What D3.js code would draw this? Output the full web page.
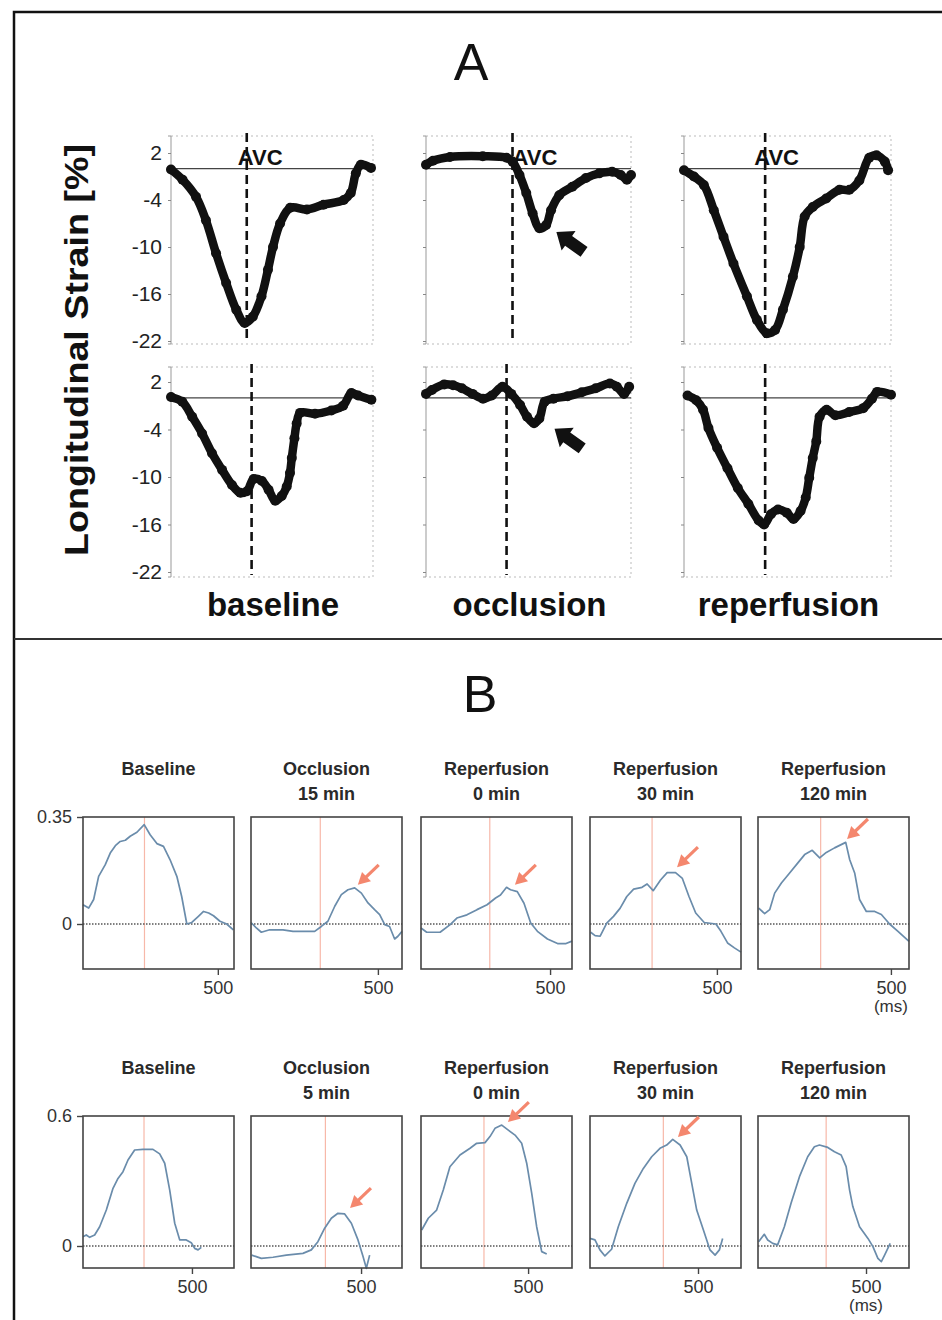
<!DOCTYPE html>
<html>
<head>
<meta charset="utf-8">
<script src="https://cdn.jsdelivr.net/npm/d3@7"></script>
<style>
  body { margin: 0; background: #fff; }
  svg { display: block; font-family: "Liberation Sans", Arial, Helvetica, sans-serif; }
</style>
</head>
<body>
<script>
// ---------- Panel A: longitudinal strain [%] against time (% of cardiac cycle)
const strainTicks = [2, -4, -10, -16, -22];
const strainConditions = ["baseline", "occlusion", "reperfusion"];

const strainBaselineTop = [[0,-0.1],[5.7,-1.4],[12.4,-3.6],[17.3,-6.6],[22.3,-10.8],[27.3,-14.6],[32.3,-18],[36.5,-19.7],[40.5,-18.9],[44.8,-16.3],[48,-12.9],[50.5,-10],[54,-7],[59,-5],[67.3,-5.2],[75.5,-4.6],[85.5,-4],[89,-3.1],[91.5,-0.6],[94,0.5],[99,0.1]];
const strainOcclusionTop = [[0,0.5],[3.4,1.0],[11.7,1.5],[27.7,1.6],[39.3,1.4],[42.2,0.9],[45.6,-0.8],[48.9,-3.1],[52,-5.7],[55.3,-7.6],[58.6,-7.2],[61,-5.3],[65,-3.4],[71.4,-2.3],[78,-1.2],[84.5,-0.6],[90.8,-0.4],[95,-0.8],[98,-1.4],[100,-0.8]];
const strainReperfusionTop = [[0,-0.2],[4.8,-1.0],[9.6,-2.1],[14.4,-5.3],[19.1,-8.7],[23.9,-12.1],[30.4,-16.3],[35.2,-19.3],[40,-21],[44,-20.6],[47.8,-18],[52.6,-13.8],[55.9,-10],[58.3,-6.1],[62.2,-4.9],[68.7,-3.8],[75.1,-2.7],[79.9,-2.7],[84.7,-1.5],[89.5,1.4],[93,1.7],[97,0.9],[98.6,-0.2]];

const strainBaselineBottom = [[0,0.1],[5.6,-0.5],[10.5,-2.4],[15.4,-4.5],[20.3,-7],[25.3,-9.1],[30.2,-11],[34.3,-12],[37.6,-11.8],[40.9,-10.25],[45,-10.5],[48.3,-11.6],[51.6,-13],[54.8,-12.4],[57.3,-11.2],[58.9,-9.5],[59.8,-7.6],[61.1,-5.1],[62.2,-3.25],[63.9,-1.9],[71.3,-2],[79.4,-1.6],[85.2,-1],[89.3,0.6],[92.6,0.3],[99.2,-0.25]];
const strainOcclusionBottom = [[0,0.5],[2.9,1.0],[8.9,1.7],[13.2,1.6],[17.5,1.2],[22.7,0.5],[27.8,-0.1],[32.1,0.3],[37.3,1.4],[41.6,0.5],[45.9,-0.9],[49.3,-2.4],[52.7,-3.2],[55.3,-2.6],[57.9,-0.5],[62.2,-0.1],[69.1,0.2],[76,0.7],[82.8,1.2],[89.7,1.8],[93.1,1.4],[96.6,0.5],[99.1,1.4]];
const strainReperfusionBottom = [[1.7,0.3],[5.9,-0.3],[9.2,-1.5],[11.8,-3.8],[16,-6.3],[21,-8.9],[26,-11.4],[31.1,-13.4],[36.1,-15.5],[38.7,-16],[42,-14.7],[45.4,-14.1],[49.6,-14.5],[52.9,-15.3],[56.3,-14.3],[58.8,-12.6],[60.5,-10.1],[62.2,-7.6],[63.9,-5.5],[65.5,-2.4],[68.9,-1.5],[73.1,-2.2],[79.8,-1.8],[86.6,-1.3],[90.8,-0.1],[93.3,0.75],[100,0.4]];

// aortic valve closure (time, %)
const avcTop = [37.5, 42.2, 39.2];
const avcBottom = [39.9, 39.3, 39.2];
// arrow tips [time, strain] (null = no arrow)
const strainArrowsTop = [null, [63.6, -8.1], null];
const strainArrowsBottom = [null, [62.7, -3.9], null];

// ---------- Panel B: curves against time (ms)
const rateTicksTop = [0, 0.35];
const rateTicksBottom = [0, 0.6];
const timeTick = 500;
const titlesTop = [["Baseline"], ["Occlusion", "15 min"], ["Reperfusion", "0 min"], ["Reperfusion", "30 min"], ["Reperfusion", "120 min"]];
const titlesBottom = [["Baseline"], ["Occlusion", "5 min"], ["Reperfusion", "0 min"], ["Reperfusion", "30 min"], ["Reperfusion", "120 min"]];
const timeMaxTop = [560, 595, 585, 595, 568];
const timeMaxBottom = [693, 686, 705, 699, 699];
const markerTop = [228, 273, 266.5, 244.6, 235.7];
const markerBottom = [280, 338, 294, 339.5, 315.5];
const rateArrowsTop = [null, [421, 0.128], [364, 0.128], [343, 0.186], [335, 0.278]];
const rateArrowsBottom = [null, [450, 0.175], [406, 0.572], [407, 0.503], null];

const rateBaselineTop = [[0,0.063],[21,0.052],[39.5,0.080],[58,0.156],[82.6,0.194],[101,0.232],[120,0.256],[138,0.270],[157,0.274],[175,0.287],[200,0.300],[227,0.325],[249,0.292],[274,0.263],[298.5,0.254],[323,0.210],[348,0.156],[366,0.090],[385,0],[403.5,0.005],[428,0.025],[447,0.041],[466,0.036],[484,0.027],[508,0.009],[533,0],[557.5,-0.019]];
const rateOcclusion15 = [[0,0.005],[21,-0.013],[40.7,-0.027],[73.6,-0.019],[126,-0.019],[165.5,-0.024],[218,-0.024],[251,-0.024],[277,-0.008],[303,0.009],[330,0.058],[356,0.096],[382,0.112],[408.5,0.118],[435,0.101],[461,0.069],[487,0.047],[507,0.031],[527,-0.002],[546,-0.008],[566,-0.049],[579,-0.040],[595,-0.024]];
const rateReperfusion0Top = [[0,-0.013],[22,-0.027],[74,-0.027],[113,-0.002],[139,0.0195],[178,0.030],[217,0.047],[256,0.063],[289,0.085],[308,0.095],[331.5,0.120],[347,0.112],[373,0.106],[399,0.068],[425,0.003],[451,-0.024],[490,-0.049],[529,-0.064],[562,-0.064],[585,-0.056]];
const rateReperfusion30Top = [[2.6,-0.027],[20,-0.038],[40,-0.040],[66,0.003],[92.6,0.025],[119,0.052],[145,0.090],[172,0.114],[205,0.120],[225,0.131],[249,0.109],[278,0.144],[304,0.168],[337,0.168],[364,0.149],[390,0.090],[416.5,0.036],[450,0.005],[496,0],[516,-0.024],[542,-0.062],[569,-0.078],[595,-0.092]];
const rateReperfusion120Top = [[2.5,0.052],[25,0.034],[44,0.047],[62.7,0.101],[88,0.134],[119,0.167],[150,0.200],[175.5,0.227],[204,0.241],[232,0.216],[257,0.234],[288,0.249],[330,0.267],[345,0.210],[363.6,0.167],[382,0.080],[407.5,0.041],[439,0.041],[464,0.031],[495,0],[526.6,-0.024],[568,-0.057]];

const rateBaselineBottom = [[0,0.043],[15,0.051],[30.6,0.040],[53.5,0.051],[76.5,0.089],[107,0.166],[137.7,0.266],[160.6,0.312],[183.6,0.343],[206.5,0.397],[237,0.443],[275,0.446],[321,0.446],[352,0.425],[375,0.382],[398,0.258],[421,0.105],[444,0.028],[474,0.028],[497,0.015],[512.5,-0.011],[528,-0.018],[543,-0.006]];
const rateOcclusion5 = [[3,-0.042],[24,-0.049],[47,-0.057],[100,-0.052],[160.5,-0.042],[236,-0.034],[274,-0.018],[304,0.020],[334.7,0.082],[365,0.128],[395,0.151],[425.5,0.148],[456,0.105],[486,0.028],[509,-0.049],[524,-0.103],[539,-0.042]];
const rateReperfusion0Bottom = [[3.3,0.074],[34,0.128],[73,0.166],[104,0.258],[135,0.366],[182,0.420],[229,0.451],[260,0.474],[299,0.477],[322,0.505],[345.5,0.543],[377,0.558],[407.6,0.535],[439,0.512],[470,0.474],[493.5,0.382],[517,0.243],[540,0.089],[563.5,-0.026],[587,-0.037]];
const rateReperfusion30Bottom = [[0,0.035],[23,0.028],[46,-0.018],[69,-0.046],[100,-0.015],[131,0.089],[170,0.197],[208,0.289],[247,0.358],[285.5,0.412],[324,0.451],[355,0.466],[383,0.492],[417,0.466],[448,0.412],[471,0.289],[494,0.166],[525,0.074],[555.5,-0.018],[579,-0.042],[599,-0.018],[614,0.035]];
const rateReperfusion120Bottom = [[3,0.020],[29,0.054],[45,0.028],[68,0.012],[91,0.005],[122,0.089],[153,0.197],[192,0.320],[230,0.412],[261,0.458],[284.5,0.466],[323,0.455],[354,0.435],[385,0.420],[408,0.366],[424,0.258],[439,0.182],[470,0.089],[509,0.035],[532,-0.003],[555,-0.057],[571,-0.072],[586,-0.042],[612,0.012]];

// ---------- layout
const width = 942, height = 1320;
const aCols = [[171, 373], [426, 631], [684, 891]];
const aRows = [{ y: [341, 153], frame: [136, 344] }, { y: [572, 382], frame: [367, 577] }];
const avcLabelDx = [-9, 0, -11];
const bLefts = [83, 251, 421, 590, 758], bWidth = 151;
const bRows = [{ top: 817, bottom: 969, zero: 924 }, { top: 1116, bottom: 1268, zero: 1246 }];

const svg = d3.select("body").append("svg").attr("width", width).attr("height", height);

// outer frame and divider
svg.append("rect").attr("x", 14).attr("y", 12).attr("width", 1000).attr("height", 1400)
  .attr("fill", "none").attr("stroke", "#111").attr("stroke-width", 2.5);
svg.append("line").attr("x1", 14).attr("x2", width).attr("y1", 639).attr("y2", 639)
  .attr("stroke", "#333").attr("stroke-width", 2);

svg.append("text").attr("x", 471).attr("y", 80).attr("text-anchor", "middle")
  .attr("font-size", 52).attr("fill", "#111").text("A");
svg.append("text").attr("x", 480).attr("y", 712).attr("text-anchor", "middle")
  .attr("font-size", 52).attr("fill", "#111").text("B");

svg.append("text").attr("transform", "translate(88,350) rotate(-90)").attr("text-anchor", "middle")
  .attr("font-size", 33).attr("font-weight", "bold").attr("fill", "#111")
  .attr("textLength", 412).attr("lengthAdjust", "spacingAndGlyphs").text("Longitudinal Strain [%]");

function blackArrow(g, tx, ty) {
  const u = [0.814, 0.581], n = [-u[1], u[0]];
  const p = (a, b) => [tx + u[0] * a + n[0] * b, ty + u[1] * a + n[1] * b];
  const pts = [p(0, 0), p(15, 12), p(15, 6), p(34, 6), p(34, -6), p(15, -6), p(15, -12)];
  g.append("polygon").attr("points", pts.map(d => d.join(",")).join(" ")).attr("fill", "#111");
}

function drawStrainPlot(data, avc, col, rowIdx, arrow, avcLabel, dx) {
  const row = aRows[rowIdx];
  const [x0, x1] = aCols[col];
  const x = d3.scaleLinear().domain([0, 100]).range([x0, x1]);
  const y = d3.scaleLinear().domain([-22, 2]).range(row.y);
  const g = svg.append("g");
  const [fTop, fBot] = row.frame;

  // faint dotted frame
  g.append("path").attr("d", `M${x0},${fTop}H${x1}V${fBot}H${x0}`)
    .attr("fill", "none").attr("stroke", "#bbb").attr("stroke-width", 1).attr("stroke-dasharray", "2,3");
  // left axis
  const axis = g.append("g").attr("transform", `translate(${x0},0)`)
    .call(d3.axisLeft(y).tickValues(strainTicks).tickSize(3).tickFormat(d => col === 0 ? String(d) : ""));
  axis.select(".domain").attr("d", `M-3,${fTop}H0V${fBot}H-3`).attr("stroke", "#999");
  axis.selectAll(".tick line").attr("stroke", "#888");
  axis.selectAll(".tick text").attr("font-size", 21).attr("fill", "#222").attr("x", -9)
    .attr("font-family", "Liberation Sans, Arial, sans-serif");

  // zero line
  g.append("line").attr("x1", x0).attr("x2", x1).attr("y1", y(0)).attr("y2", y(0))
    .attr("stroke", "#444").attr("stroke-width", 1.2);
  // AVC dashed
  g.append("line").attr("x1", x(avc)).attr("x2", x(avc)).attr("y1", fTop - 3).attr("y2", fBot - 2)
    .attr("stroke", "#111").attr("stroke-width", 2.6).attr("stroke-dasharray", "9,5");
  if (avcLabel) {
    g.append("text").attr("x", x(avc) + dx).attr("y", 165).attr("font-size", 22).attr("font-weight", "bold")
      .attr("fill", "#111").text("AVC");
  }

  const line = d3.line().x(d => x(d[0])).y(d => y(d[1])).curve(d3.curveCatmullRom);
  g.append("path").datum(data).attr("d", line).attr("fill", "none")
    .attr("stroke", "#111").attr("stroke-width", 8.5).attr("stroke-linejoin", "round").attr("stroke-linecap", "round");
  g.selectAll("circle").data(data).join("circle")
    .attr("cx", d => x(d[0])).attr("cy", d => y(d[1])).attr("r", 5).attr("fill", "#111");

  if (arrow) blackArrow(g, x(arrow[0]), y(arrow[1]));
}

const strainTop = [strainBaselineTop, strainOcclusionTop, strainReperfusionTop];
const strainBottom = [strainBaselineBottom, strainOcclusionBottom, strainReperfusionBottom];
strainTop.forEach((d, i) => drawStrainPlot(d, avcTop[i], i, 0, strainArrowsTop[i], true, avcLabelDx[i]));
strainBottom.forEach((d, i) => drawStrainPlot(d, avcBottom[i], i, 1, strainArrowsBottom[i], false, 0));

strainConditions.forEach((name, i) => {
  svg.append("text").attr("x", (aCols[i][0] + aCols[i][1]) / 2 + 1).attr("y", 616)
    .attr("text-anchor", "middle").attr("font-size", 33).attr("font-weight", "bold").attr("fill", "#111").text(name);
});

// ---------- Panel B
function coralArrow(g, tx, ty) {
  const u = [0.72, -0.69], n = [-u[1], u[0]];
  const p = (a, b) => [tx + u[0] * a + n[0] * b, ty + u[1] * a + n[1] * b];
  g.append("line").attr("x1", p(8, 0)[0]).attr("y1", p(8, 0)[1]).attr("x2", p(29, 0)[0]).attr("y2", p(29, 0)[1])
    .attr("stroke", "#f4876e").attr("stroke-width", 3.2);
  g.append("polygon").attr("points", [p(0, 0), p(12, 6.5), p(12, -6.5)].map(d => d.join(",")).join(" "))
    .attr("fill", "#f4876e");
}

function drawRatePlot(data, i, rowIdx, title, tMax, marker, arrow, ticks) {
  const row = bRows[rowIdx];
  const left = bLefts[i], right = left + bWidth;
  const x = d3.scaleLinear().domain([0, tMax]).range([left, right]);
  const y = d3.scaleLinear().domain([0, ticks[1]]).range([row.zero, row.top]);
  const g = svg.append("g");

  title.forEach((t, k) => {
    g.append("text").attr("x", (left + right) / 2).attr("y", row.top - 42 + k * 25)
      .attr("text-anchor", "middle").attr("font-size", 18).attr("font-weight", "bold").attr("fill", "#2a2a2a").text(t);
  });

  // ecg marker
  g.append("line").attr("x1", x(marker)).attr("x2", x(marker)).attr("y1", row.top).attr("y2", row.bottom)
    .attr("stroke", "#f7b8a9").attr("stroke-width", 1.2);
  // zero line
  g.append("line").attr("x1", left).attr("x2", right).attr("y1", y(0)).attr("y2", y(0))
    .attr("stroke", "#555").attr("stroke-width", 1.3).attr("stroke-dasharray", "1.5,1.5");

  const line = d3.line().x(d => x(d[0])).y(d => y(d[1]));
  g.append("path").datum(data).attr("d", line).attr("fill", "none")
    .attr("stroke", "#6a8cab").attr("stroke-width", 1.7).attr("stroke-linejoin", "round");

  g.append("rect").attr("x", left).attr("y", row.top).attr("width", bWidth).attr("height", row.bottom - row.top)
    .attr("fill", "none").attr("stroke", "#444").attr("stroke-width", 1.6);

  // x axis tick
  const xa = g.append("g").attr("transform", `translate(0,${row.bottom})`)
    .call(d3.axisBottom(x).tickValues([timeTick]).tickSize(6).tickPadding(6));
  xa.select(".domain").remove();
  xa.selectAll(".tick line").attr("stroke", "#444").attr("stroke-width", 1.4);
  xa.selectAll(".tick text").attr("font-size", 18).attr("fill", "#333")
    .attr("font-family", "Liberation Sans, Arial, sans-serif");
  if (i === 4) {
    g.append("text").attr("x", x(timeTick)).attr("y", row.bottom + 43).attr("text-anchor", "middle")
      .attr("font-size", 17).attr("fill", "#333").text("(ms)");
  }

  if (i === 0) {
    const ya = g.append("g").attr("transform", `translate(${left},0)`)
      .call(d3.axisLeft(y).tickValues(ticks).tickSize(6).tickPadding(5).tickFormat(d => String(d)));
    ya.select(".domain").remove();
    ya.selectAll(".tick line").attr("stroke", "#444").attr("stroke-width", 1.4);
    ya.selectAll(".tick text").attr("font-size", 18).attr("fill", "#333")
      .attr("font-family", "Liberation Sans, Arial, sans-serif");
  }

  if (arrow) coralArrow(g, x(arrow[0]), y(arrow[1]));
}

const rateTop = [rateBaselineTop, rateOcclusion15, rateReperfusion0Top, rateReperfusion30Top, rateReperfusion120Top];
const rateBottom = [rateBaselineBottom, rateOcclusion5, rateReperfusion0Bottom, rateReperfusion30Bottom, rateReperfusion120Bottom];
rateTop.forEach((d, i) => drawRatePlot(d, i, 0, titlesTop[i], timeMaxTop[i], markerTop[i], rateArrowsTop[i], rateTicksTop));
rateBottom.forEach((d, i) => drawRatePlot(d, i, 1, titlesBottom[i], timeMaxBottom[i], markerBottom[i], rateArrowsBottom[i], rateTicksBottom));
</script>
</body>
</html>
